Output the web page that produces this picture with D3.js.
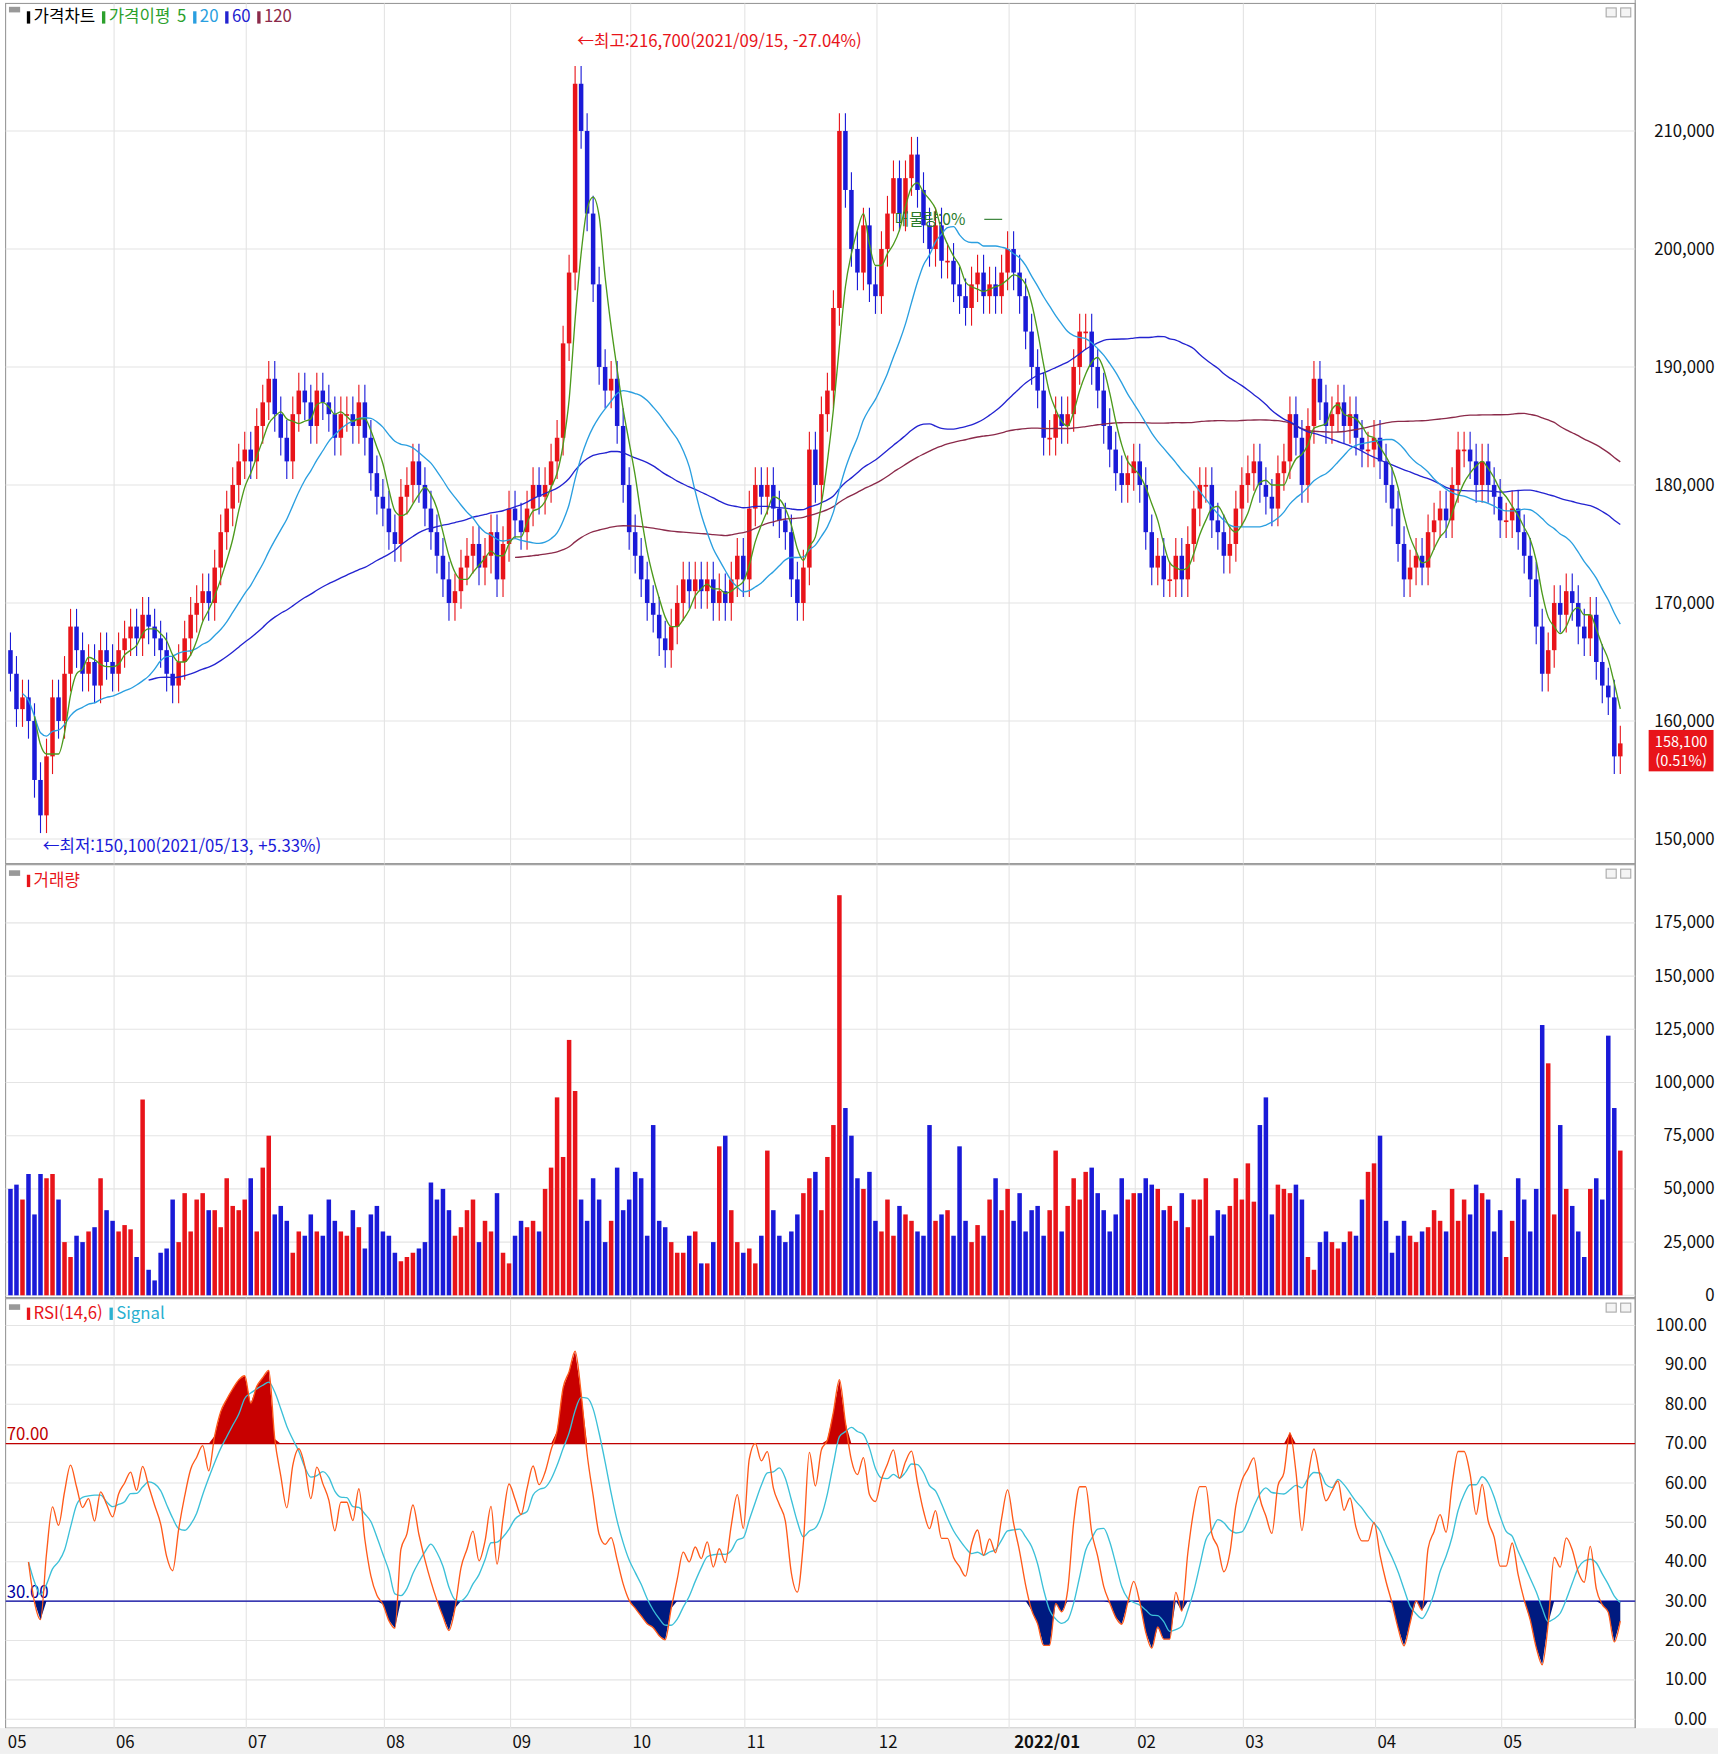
<!DOCTYPE html>
<html lang="ko">
<head>
<meta charset="UTF-8">
<script src="https://cdn.jsdelivr.net/npm/d3@7"></script>
<style>
  body { margin: 0; background: #fff; }
  text { font-family: "Noto Sans CJK KR", "DejaVu Sans", sans-serif; }
</style>
</head>
<body>
<script>
// ---------- data (prices in thousand won, volumes in thousand shares) ----------
const monthLabels = ["05", "06", "07", "08", "09", "10", "11", "12", "2022/01", "02", "03", "04", "05"];
const closeByMonth = [
  [164,161,162,160,155,152,157,162,160,164,168,166,164,165,163,166,165,164],
  [166,167,168,167,169,168,167,166,164,163,165,167,169,170,171,170,173,176,178,180,182,183],
  [182,185,187,189,186,184,182,186,188,187,185,188,187,186,184,186,186,185,187,184,181,179,178],
  [176,175,179,180,182,180,178,176,174,172,170,171,173,174,175,173,174,176,172,175,178],
  [177,176,178,180,179,180,182,184,192,198,214,210,203,197,190,188,189,185,180,176],
  [174,172,170,169,167,166,168,170,172,171,172,171,172,170,171,170,172,174,172],
  [178,180,179,180,178,177,176,172,170,173,183,180,186,188,195,210,205,200,198,202,197,196],
  [200,203,206,203,206,208,205,202,200,202,199,199,197,196,195,197,198,196,197,196,198,200],
  [198,196,193,190,188,184,184,186,185,186,190,193,193,190,188,185,183,181,180,181,182],
  [180,176,173,174,172,172,174,172,175,178,180,180,177,176,174,175,178,180],
  [181,182,180,179,178,181,182,186,184,180,185,189,187,185,186,187,185,186,184,183,183,184],
  [182,180,178,175,172,173,174,173,176,177,178,177,180,183,183,182,180,182,180,179,177],
  [177,178,176,174,172,168,164,166,170,169,171,170,168,167,169,165,163,162,157,158.1]
];
const volumeByMonth = [
  [50,52,45,57,38,57,55,57,45,25,18,28,25,30,32,55,40,35],
  [30,33,31,18,92,12,7,20,22,45,25,48,30,45,48,40,40,32,55,42,40,45],
  [55,30,60,75,38,42,35,20,30,28,38,30,28,45,35,30,28,40,32,22,38,42,30],
  [28,20,16,18,20,22,25,53,45,50,40,28,32,40,45,25,35,30,48,20,15],
  [28,35,32,35,30,50,60,93,65,120,96,45,35,55,45,25,35,60,40,45],
  [58,55,28,80,35,32,25,20,20,28,30,15,15,25,70,75,40,25,20],
  [22,15,28,68,40,28,25,30,38,48,55,58,40,65,80,188,88,75,55,50,58,35],
  [30,45,28,42,38,35,30,28,80,35,38,40,28,70,35,25,33,28,45,55,40,50],
  [35,48,30,40,42,28,40,68,30,42,55,45,58,60,48,40,30,38,55,45,48],
  [48,55,52,50,40,42,35,48,32,45,45,55,28,40,38,42,55,45],
  [62,44,80,93,38,52,50,48,52,45,18,12,25,30,25,22,25,30,28,45,58,62],
  [75,35,20,28,35,28,25,30,32,40,35,30,50,35,45,38,52,48,45,30,40],
  [18,35,55,45,30,50,127,109,38,80,50,42,30,18,50,55,45,122,88,68]
];
const priceTicks = [150000,160000,170000,180000,190000,200000,210000];
const volumeTicks = [0,25000,50000,75000,100000,125000,150000,175000];
const rsiTicks = [0,10,20,30,40,50,60,70,80,90,100];

// ---------- flatten ----------
const closes = closeByMonth.flat().map(v => v * 1000);
const volumes = volumeByMonth.flat().map(v => v * 1000);
const monthStart = [];
let acc = 0;
closeByMonth.forEach(m => { monthStart.push(acc); acc += m.length; });
const n = closes.length;
const opens = closes.map((c, i) => i === 0 ? 166000 : closes[i - 1]);

function ma(len, minLen) {
  return closes.map((c, i) => {
    const k = Math.min(len, i + 1);
    if (k < minLen) return null;
    return d3.mean(closes.slice(i - k + 1, i + 1));
  });
}
const ma5 = ma(5, 5), ma20 = ma(20, 3), ma60 = ma(60, 24), ma120 = ma(120, 85);

// RSI(14) exponential average, signal 6
const rsi = closes.map(() => null);
let ag = 0, al = 0;
const a = 2 / 15;
for (let i = 1; i < n; i++) {
  const d = closes[i] - closes[i - 1];
  const g = Math.max(d, 0), l = Math.max(-d, 0);
  if (i === 1) { ag = 1200; al = 1200; }
  ag = ag * (1 - a) + g * a;
  al = al * (1 - a) + l * a;
  if (i >= 3) rsi[i] = al + ag === 0 ? 50 : 100 * ag / (ag + al);
}
const signal = rsi.map((r, i) => {
  const s = rsi.slice(Math.max(0, i - 5), i + 1).filter(v => v != null);
  return s.length ? d3.mean(s) : null;
});

// ---------- layout ----------
const W = 1536, H = 1568;
const L = 5, R = 1462;
const svg = d3.select("body").append("svg")
  .attr("width", 1718).attr("height", 1754)
  .attr("viewBox", `0 0 ${W} ${H}`);
svg.append("rect").attr("width", W).attr("height", H).attr("fill", "#fff");

const x = d3.scaleBand().domain(d3.range(n)).range([L + 1, 1452]).padding(0.25);
const xc = i => x(i) + x.bandwidth() / 2;

const yP = d3.scaleLinear().domain([150000, 210000]).range([750, 117]);
const yV = d3.scaleLinear().domain([0, 175000]).range([1158, 825]);
const yR = d3.scaleLinear().domain([0, 100]).range([1537, 1185]);

const panels = [[3, 772], [773, 1160], [1161, 1545]];
const gridColor = "#e4e4e4";

panels.forEach(([t, b]) => {
  svg.append("rect").attr("x", L).attr("y", t).attr("width", R - L).attr("height", b - t)
    .attr("fill", "none").attr("stroke", "#9a9a9a");
  svg.selectAll(null).data(monthStart.slice(1)).enter().append("line")
    .attr("x1", i => x(i) - 2).attr("x2", i => x(i) - 2).attr("y1", t).attr("y2", b)
    .attr("stroke", gridColor);
  [1436, 1449].forEach(bx => svg.append("rect").attr("x", bx).attr("y", t + 4).attr("width", 9).attr("height", 8)
    .attr("fill", "#f4f4f4").attr("stroke", "#aaa"));
});
svg.append("line").attr("x1", R).attr("x2", R).attr("y1", 0).attr("y2", 1545).attr("stroke", "#9a9a9a");
svg.append("rect").attr("x", 0).attr("y", 1545).attr("width", W).attr("height", 23).attr("fill", "#f0f0f0");

function hgrid(scale, ticks, fmt, lx) {
  svg.selectAll(null).data(ticks).enter().append("line")
    .attr("x1", L).attr("x2", R).attr("y1", d => scale(d)).attr("y2", d => scale(d)).attr("stroke", gridColor);
  svg.selectAll(null).data(ticks).enter().append("text")
    .attr("x", lx).attr("y", d => scale(d) + 5).attr("text-anchor", "end")
    .attr("font-size", 15).attr("fill", "#111").text(fmt);
}
hgrid(yP, priceTicks, d3.format(","), 1533);
hgrid(yV, volumeTicks, d3.format(","), 1533);
hgrid(yR, rsiTicks, d3.format(".2f"), 1526);

svg.selectAll(null).data(monthStart).enter().append("text")
  .attr("x", (i, k) => k === 8 ? x(i) + 32 : x(i) + 8).attr("y", 1563)
  .attr("text-anchor", "middle").attr("font-size", 15)
  .attr("font-weight", (i, k) => k === 8 ? "bold" : "normal")
  .attr("fill", "#111").text((i, k) => monthLabels[k]);

// ---------- price panel ----------
const upC = "#e8141a", dnC = "#1a1ad8";
const col = i => closes[i] >= opens[i] ? upC : dnC;
const cand = svg.append("g");
cand.selectAll("line").data(d3.range(n)).enter().append("line")
  .attr("x1", xc).attr("x2", xc)
  .attr("y1", i => yP(Math.max(opens[i], closes[i]) + 1500))
  .attr("y2", i => yP(Math.min(opens[i], closes[i]) - 1500))
  .attr("stroke", col);
cand.selectAll("rect").data(d3.range(n)).enter().append("rect")
  .attr("x", i => x(i)).attr("width", x.bandwidth())
  .attr("y", i => yP(Math.max(opens[i], closes[i])))
  .attr("height", i => Math.max(1.5, Math.abs(yP(opens[i]) - yP(closes[i]))))
  .attr("fill", col);

function drawLine(vals, scale, color, w) {
  svg.append("path")
    .datum(vals.map((v, i) => [i, v]).filter(d => d[1] != null))
    .attr("fill", "none").attr("stroke", color).attr("stroke-width", w || 1.2)
    .attr("d", d3.line().x(d => xc(d[0])).y(d => scale(d[1])).curve(d3.curveMonotoneX));
}
drawLine(ma120, yP, "#8b2a4a");
drawLine(ma60, yP, "#2323d0");
drawLine(ma20, yP, "#2a9fe0");
drawLine(ma5, yP, "#4c9a1c");

function legend(y, items) {
  let cx = 24;
  items.forEach(([txt, c, mark]) => {
    if (mark) { svg.append("rect").attr("x", cx).attr("y", y - 10).attr("width", 3).attr("height", 11).attr("fill", c); cx += 6; }
    const t = svg.append("text").attr("x", cx).attr("y", y).attr("font-size", 15).attr("fill", c).text(txt);
    cx += t.node().getComputedTextLength() + 6;
  });
}
svg.append("rect").attr("x", 8).attr("y", 6).attr("width", 10).attr("height", 5).attr("fill", "#999");
legend(20, [["가격차트", "#000", true], ["가격이평", "#2ca02c", true], ["5", "#2ca02c", false], ["20", "#2a9fe0", true], ["60", "#2323d0", true], ["120", "#8b2a4a", true]]);
svg.append("rect").attr("x", 8).attr("y", 778).attr("width", 10).attr("height", 5).attr("fill", "#999");
legend(792, [["거래량", "#e8141a", true]]);
svg.append("rect").attr("x", 8).attr("y", 1166).attr("width", 10).attr("height", 5).attr("fill", "#999");
legend(1179, [["RSI(14,6)", "#e8141a", true], ["Signal", "#2ab0d0", true]]);

// annotations
const hiI = closes.indexOf(214000), loI = closes.indexOf(152000);
svg.append("text").attr("x", xc(hiI) + 2).attr("y", 42).attr("font-size", 15).attr("fill", "#e8141a")
  .text("←최고:216,700(2021/09/15, -27.04%)");
svg.append("text").attr("x", xc(loI) + 2).attr("y", 762).attr("font-size", 15).attr("fill", "#1a1ad8")
  .text("←최저:150,100(2021/05/13, +5.33%)");
svg.append("text").attr("x", 800).attr("y", 201).attr("font-size", 14).attr("fill", "#2a7a2a").text("매물량:0%");
svg.append("line").attr("x1", 880).attr("x2", 896).attr("y1", 196).attr("y2", 196).attr("stroke", "#2a7a2a");

// current price tag
const last = closes[n - 1];
const ty = yP(last) - 12;
svg.append("rect").attr("x", 1474).attr("y", ty).attr("width", 58).attr("height", 37).attr("fill", "#e8141a");
svg.append("text").attr("x", 1503).attr("y", ty + 15).attr("text-anchor", "middle").attr("font-size", 13).attr("fill", "#fff").text(d3.format(",")(last));
svg.append("text").attr("x", 1503).attr("y", ty + 32).attr("text-anchor", "middle").attr("font-size", 13).attr("fill", "#fff").text("(0.51%)");

// ---------- volume ----------
svg.append("g").selectAll("rect").data(d3.range(n)).enter().append("rect")
  .attr("x", i => x(i)).attr("width", x.bandwidth())
  .attr("y", i => yV(volumes[i])).attr("height", i => yV(0) - yV(volumes[i]))
  .attr("fill", col);

// ---------- RSI ----------
const rpts = rsi.map((v, i) => [i, v]).filter(d => d[1] != null);
svg.append("path").datum(rpts).attr("fill", "#c80000")
  .attr("d", d3.area().x(d => xc(d[0])).y0(yR(70)).y1(d => yR(Math.max(70, d[1]))));
svg.append("path").datum(rpts).attr("fill", "#001a80")
  .attr("d", d3.area().x(d => xc(d[0])).y0(yR(30)).y1(d => yR(Math.min(30, d[1]))));
svg.append("line").attr("x1", L).attr("x2", R).attr("y1", yR(70)).attr("y2", yR(70)).attr("stroke", "#c00000");
svg.append("line").attr("x1", L).attr("x2", R).attr("y1", yR(30)).attr("y2", yR(30)).attr("stroke", "#0000a0");
svg.append("text").attr("x", 6).attr("y", yR(70) - 3).attr("font-size", 15).attr("fill", "#c00000").text("70.00");
svg.append("text").attr("x", 6).attr("y", yR(30) - 3).attr("font-size", 15).attr("fill", "#0000a0").text("30.00");
drawLine(signal, yR, "#3cc0d8", 1.2);
drawLine(rsi, yR, "#ff5a1a", 1.2);
</script>
</body>
</html>
